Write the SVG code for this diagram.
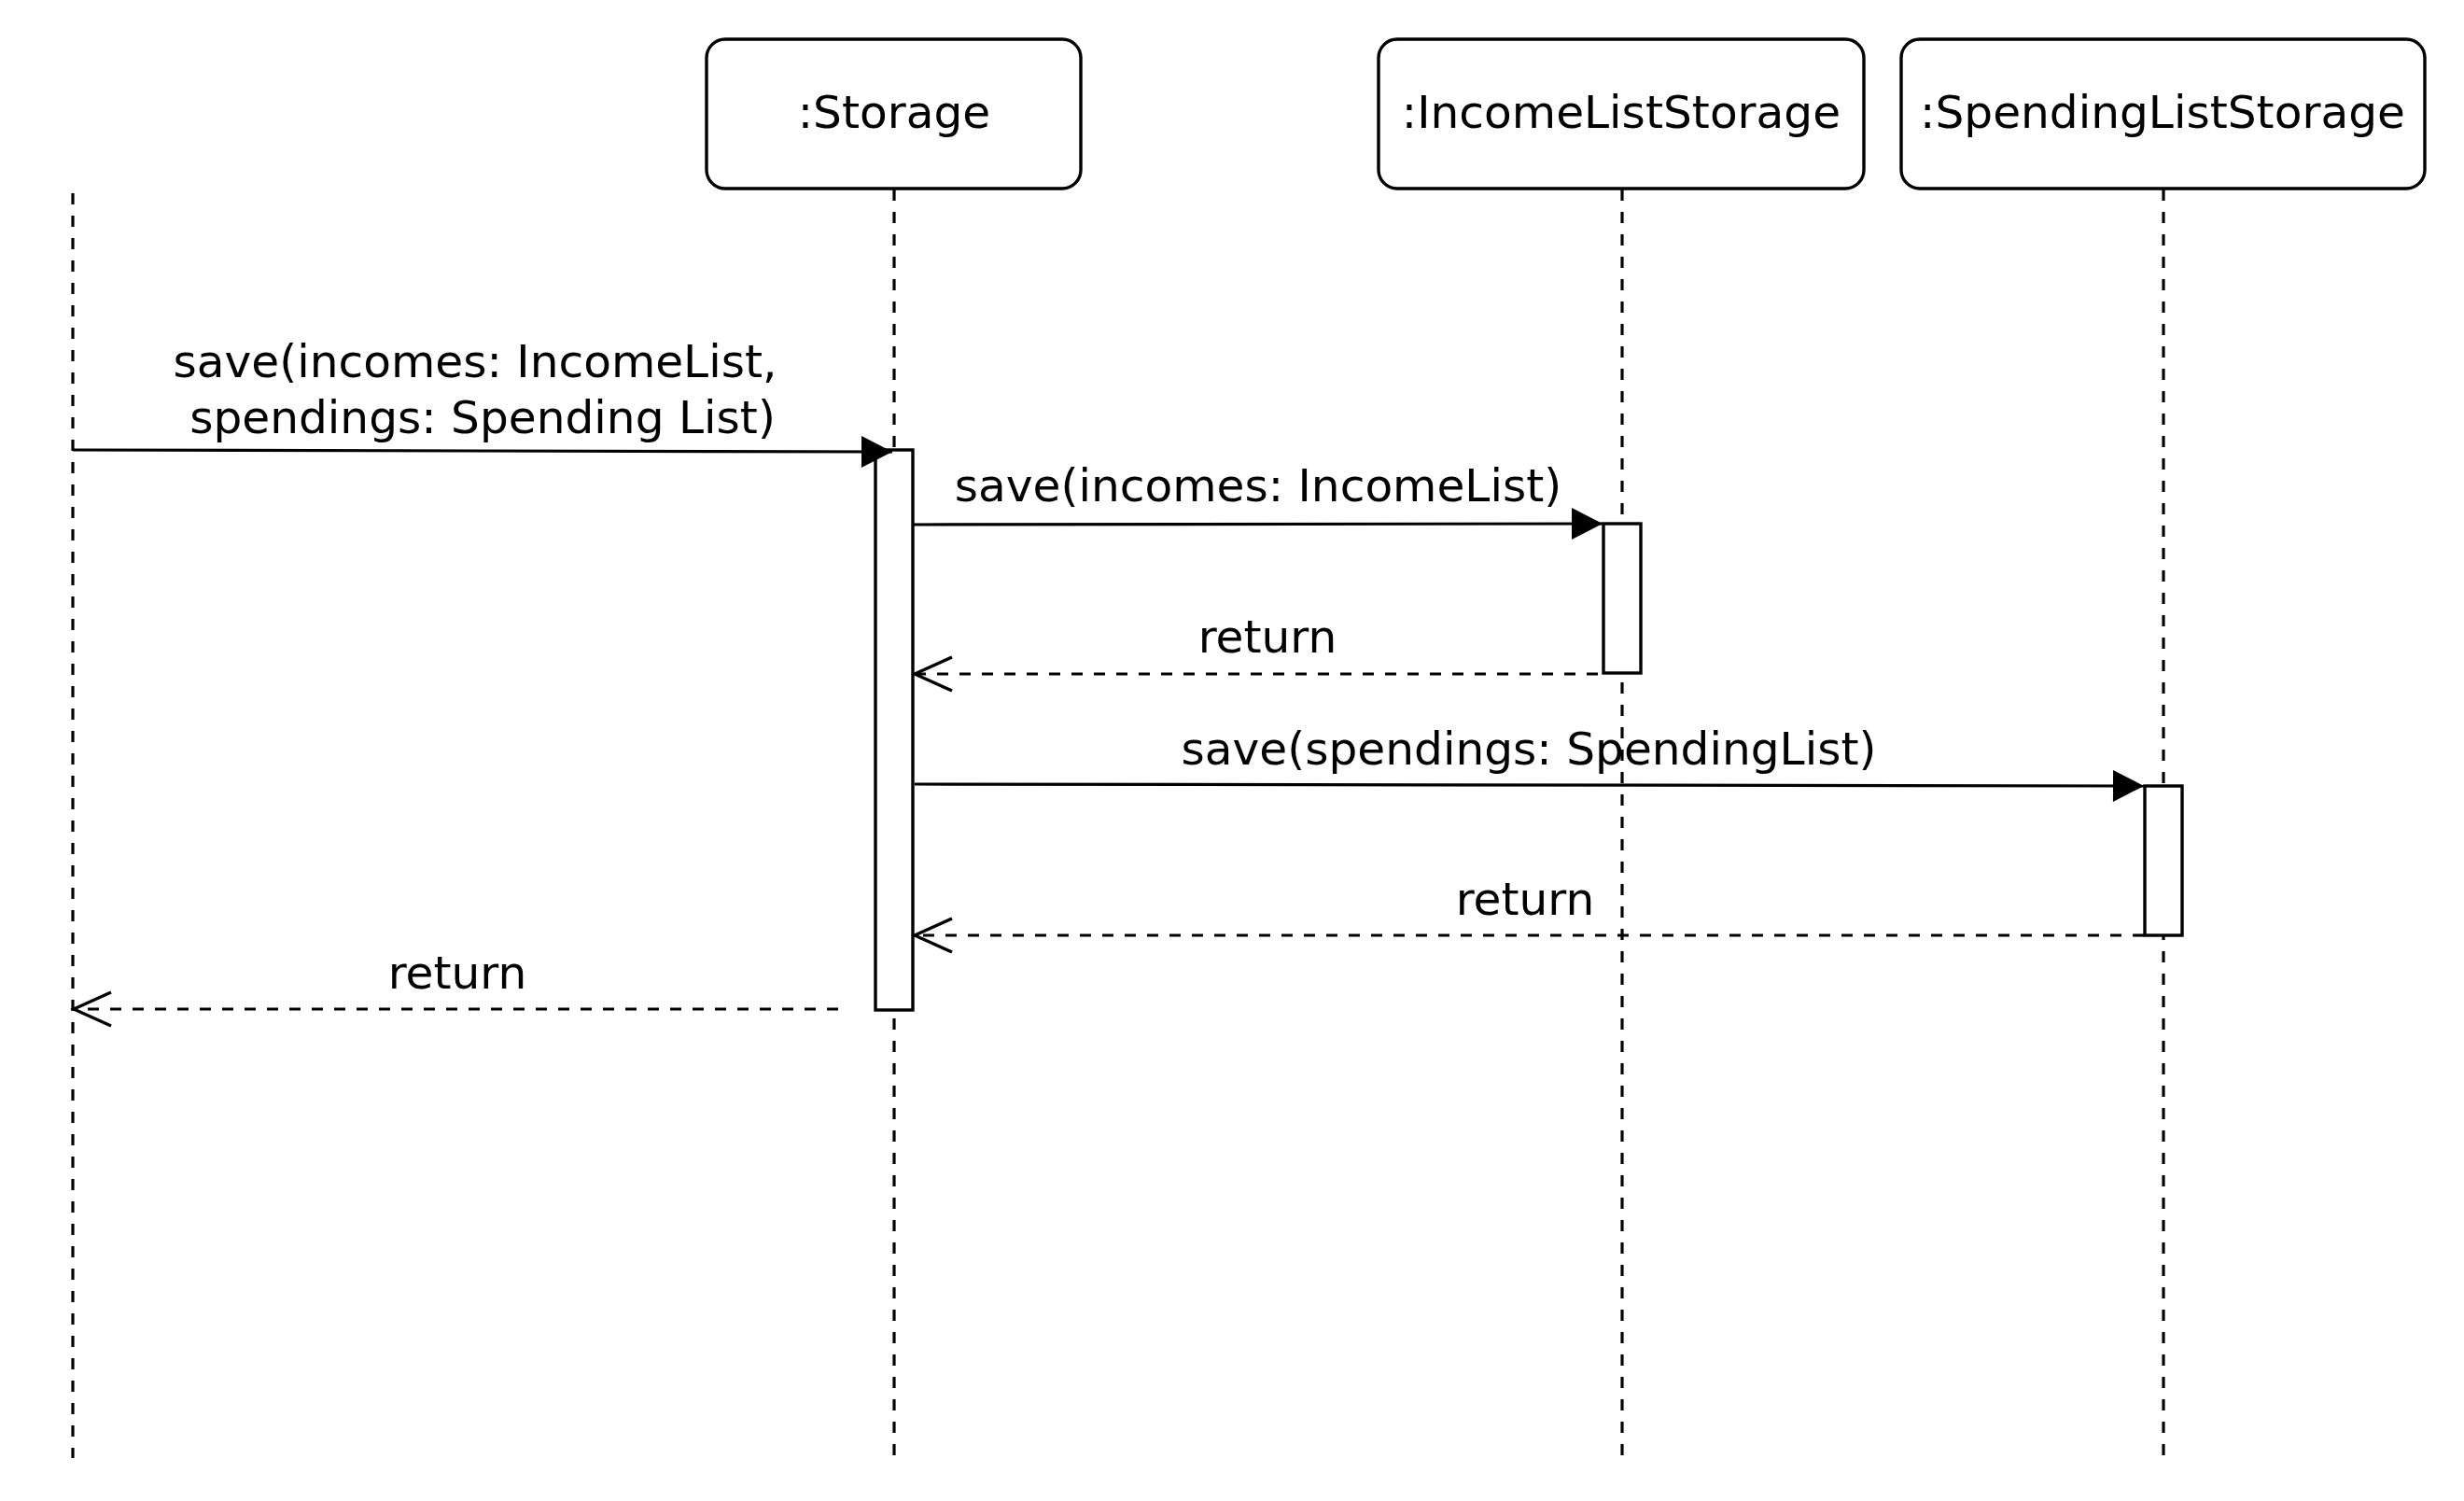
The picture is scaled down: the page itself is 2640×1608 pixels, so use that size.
<svg xmlns="http://www.w3.org/2000/svg" width="2640" height="1608" viewBox="0 0 2640 1608">
<style>
.box{fill:#fff;stroke:#000;stroke-width:3.4}
.act{fill:#fff;stroke:#000;stroke-width:3.4}
.life{fill:none;stroke:#000;stroke-width:3.2;stroke-dasharray:12 12}
.msg{fill:none;stroke:#000;stroke-width:3.2}
.ret{fill:none;stroke:#000;stroke-width:3.2;stroke-dasharray:12 12}
text{font-family:"DejaVu Sans","Verdana",sans-serif;font-size:48.6px;fill:#000;text-anchor:middle}
</style>
<defs>
<marker id="block" markerUnits="userSpaceOnUse" viewBox="-34 -18 35 36" markerWidth="35" markerHeight="36" refX="0" refY="0" orient="auto">
<path d="M-33,-17 L0,0 L-33,17 Z" fill="#000"/>
</marker>
<marker id="open" markerUnits="userSpaceOnUse" viewBox="-44 -22 48 44" markerWidth="48" markerHeight="44" refX="0" refY="0" orient="auto">
<path d="M-40,-18 L0,0 L-40,18" fill="none" stroke="#000" stroke-width="3.4"/>
</marker>
</defs>
<rect width="2640" height="1608" fill="#fff"/>

<g id="actor">
<line class="life" x1="78" y1="207" x2="78" y2="1562"/>
</g>

<g id="storage">
<rect class="box" x="757" y="42" width="401" height="160" rx="20" ry="20"/>
<text x="958" y="137">:Storage</text>
<line class="life" x1="958" y1="203" x2="958" y2="1560"/>
<rect class="act" x="938" y="482" width="40" height="600"/>
</g>

<g id="incomeListStorage">
<rect class="box" x="1477" y="42" width="520" height="160" rx="20" ry="20"/>
<text x="1737" y="137">:IncomeListStorage</text>
<line class="life" x1="1738" y1="203" x2="1738" y2="1560"/>
<rect class="act" x="1718" y="561" width="40" height="160"/>
</g>

<g id="spendingListStorage">
<rect class="box" x="2037" y="42" width="561" height="160" rx="20" ry="20"/>
<text x="2317" y="137">:SpendingListStorage</text>
<line class="life" x1="2318" y1="203" x2="2318" y2="1560"/>
<rect class="act" x="2298" y="842" width="40" height="160"/>
</g>

<g id="connectors">
<line class="msg" x1="78" y1="482" x2="956" y2="484" marker-end="url(#block)"/>
<text x="509" y="404">save(incomes: IncomeList,</text>
<text x="517" y="464">spendings: Spending List)</text>

<line class="msg" x1="978" y1="562" x2="1717" y2="561" marker-end="url(#block)"/>
<text x="1348" y="537">save(incomes: IncomeList)</text>

<line class="ret" x1="1712" y1="722" x2="980" y2="722" marker-end="url(#open)"/>
<text x="1358" y="699">return</text>

<line class="msg" x1="980" y1="840" x2="2297" y2="842" marker-end="url(#block)"/>
<text x="1638" y="819">save(spendings: SpendingList)</text>

<line class="ret" x1="2297" y1="1002" x2="980" y2="1002" marker-end="url(#open)"/>
<text x="1634" y="980">return</text>

<line class="ret" x1="898" y1="1081" x2="79" y2="1081" marker-end="url(#open)"/>
<text x="490" y="1059">return</text>
</g>
</svg>
